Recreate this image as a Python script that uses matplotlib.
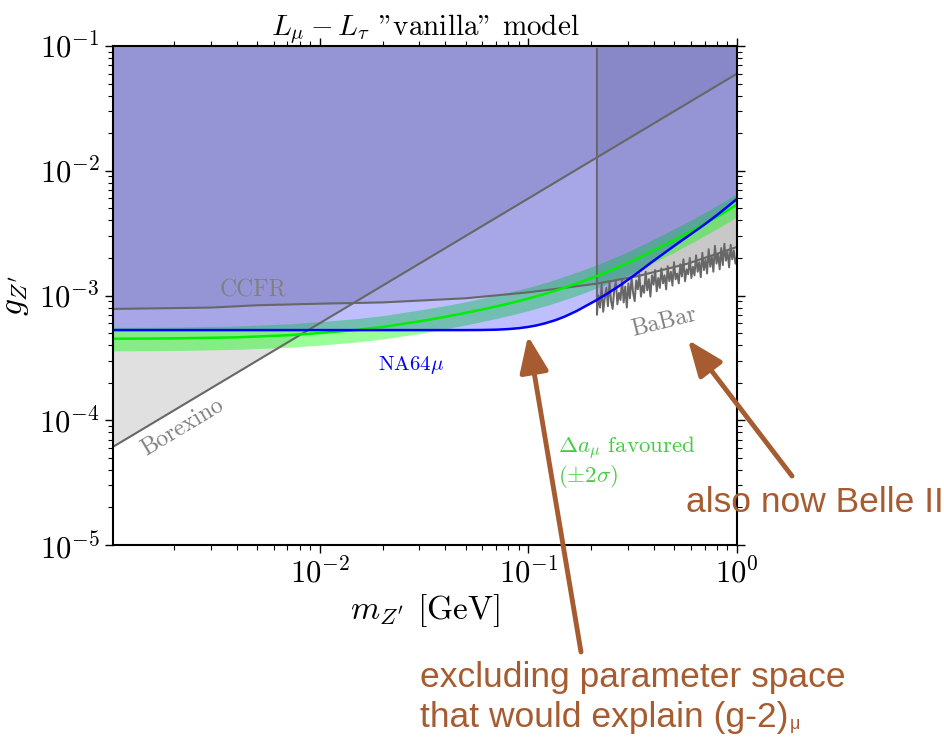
import numpy as np
import matplotlib
matplotlib.use("Agg")
import matplotlib.pyplot as plt
from matplotlib.patches import FancyArrowPatch

plt.rcParams["font.family"] = ["cmr10", "DejaVu Serif"]
plt.rcParams["mathtext.fontset"] = "cm"
plt.rcParams["axes.formatter.use_mathtext"] = True

# --- curves (m in GeV, g dimensionless) ---
borexino_m = [1.0e-3, 1.0]
borexino_g = [6.0e-5, 6.0e-2]

ccfr_m = [1e-3, 3e-3, 5e-3, 1e-2, 2e-2, 5e-2, 0.1, 0.141, 0.21, 0.335, 0.58, 1.0]
ccfr_g = [7.8e-4, 8.0e-4, 8.35e-4, 8.6e-4, 8.8e-4, 9.5e-4, 1.06e-3, 1.14e-3,
          1.24e-3, 1.43e-3, 1.8e-3, 2.45e-3]

babar_m = [0.2130, 0.2167, 0.2205, 0.2244, 0.2283, 0.2323, 0.2364, 0.2405, 0.2448, 0.2491,
           0.2534, 0.2579, 0.2624, 0.2670, 0.2717, 0.2764, 0.2813, 0.2862, 0.2912, 0.2963,
           0.3015, 0.3068, 0.3122, 0.3176, 0.3232, 0.3289, 0.3346, 0.3405, 0.3464, 0.3525,
           0.3587, 0.3650, 0.3714, 0.3779, 0.3845, 0.3912, 0.3981, 0.4051, 0.4122, 0.4194,
           0.4268, 0.4342, 0.4419, 0.4496, 0.4575, 0.4655, 0.4737, 0.4820, 0.4904, 0.4990,
           0.5078, 0.5167, 0.5257, 0.5349, 0.5443, 0.5538, 0.5635, 0.5734, 0.5835, 0.5937,
           0.6041, 0.6147, 0.6255, 0.6364, 0.6476, 0.6589, 0.6705, 0.6822, 0.6942, 0.7063,
           0.7187, 0.7313, 0.7441, 0.7572, 0.7704, 0.7839, 0.7977, 0.8117, 0.8259, 0.8404,
           0.8551, 0.8701, 0.8853, 0.9008, 0.9166, 0.9327, 0.9490, 0.9656, 0.9826, 1.0000]
babar_g = np.array([0.70, 1.00, 0.80, 1.22, 0.74, 0.95, 1.15, 0.82, 1.28, 0.90,
                    0.78, 1.10, 1.30, 0.85, 1.05, 0.92, 1.35, 0.88, 1.18, 0.80,
                    1.25, 0.95, 1.40, 1.05, 0.90, 1.32, 1.12, 1.48, 0.98, 1.20,
                    1.05, 1.55, 1.10, 1.35, 0.98, 1.45, 1.22, 1.60, 1.08, 1.38,
                    1.15, 1.65, 1.25, 1.45, 1.12, 1.72, 1.30, 1.55, 1.20, 1.85,
                    1.35, 1.50, 1.25, 1.78, 1.42, 1.95, 1.30, 1.62, 1.48, 2.00,
                    1.38, 1.70, 1.45, 2.10, 1.55, 1.85, 1.40, 2.20, 1.60, 1.95,
                    1.50, 2.35, 1.70, 2.05, 1.55, 2.50, 1.80, 2.15, 1.62, 2.40,
                    1.75, 2.60, 1.90, 2.25, 1.68, 2.55, 1.95, 2.30, 1.80, 2.05]) * 1e-3
babar_top = 0.095

na64_m = [1e-3, 1e-2, 0.03, 0.05, 0.06, 0.07, 0.08, 0.09, 0.1, 0.11, 0.12, 0.135,
          0.15, 0.17, 0.19, 0.21, 0.24, 0.28, 0.33, 0.39, 0.45, 0.52, 0.6, 0.7,
          0.8, 0.9, 1.0]
na64_g = [5.28e-4, 5.28e-4, 5.28e-4, 5.28e-4, 5.29e-4, 5.32e-4, 5.38e-4, 5.47e-4,
          5.6e-4, 5.77e-4, 5.98e-4, 6.35e-4, 6.8e-4, 7.5e-4, 8.3e-4, 9.1e-4,
          1.04e-3, 1.23e-3, 1.5e-3, 1.85e-3, 2.2e-3, 2.62e-3, 3.1e-3, 3.72e-3,
          4.4e-3, 5.15e-3, 5.95e-3]

amu_m = [1e-3, 2e-3, 4e-3, 7e-3, 1e-2, 1.5e-2, 2e-2, 3e-2, 4e-2, 5e-2, 6.5e-2,
         8e-2, 0.1, 0.125, 0.15, 0.18, 0.21, 0.25, 0.3, 0.35, 0.42, 0.5, 0.6, 0.7,
         0.8, 0.9, 1.0]
amu_c = [4.50e-4, 4.53e-4, 4.62e-4, 4.80e-4, 5.00e-4, 5.30e-4, 5.60e-4, 6.20e-4,
         6.75e-4, 7.25e-4, 7.95e-4, 8.60e-4, 9.45e-4, 1.05e-3, 1.16e-3, 1.29e-3,
         1.42e-3, 1.60e-3, 1.83e-3, 2.06e-3, 2.40e-3, 2.78e-3, 3.27e-3, 3.77e-3,
         4.27e-3, 4.80e-3, 5.35e-3]
amu_hi = [5.55e-4, 5.58e-4, 5.70e-4, 5.92e-4, 6.17e-4, 6.53e-4, 6.90e-4, 7.65e-4,
          8.30e-4, 8.90e-4, 9.80e-4, 1.06e-3, 1.16e-3, 1.29e-3, 1.43e-3, 1.59e-3,
          1.75e-3, 1.97e-3, 2.25e-3, 2.53e-3, 2.95e-3, 3.42e-3, 4.02e-3, 4.63e-3,
          5.25e-3, 5.90e-3, 6.58e-3]
amu_lo = [3.60e-4, 3.62e-4, 3.70e-4, 3.84e-4, 4.00e-4, 4.24e-4, 4.48e-4, 4.96e-4,
          5.40e-4, 5.80e-4, 6.36e-4, 6.88e-4, 7.56e-4, 8.40e-4, 9.28e-4, 1.03e-3,
          1.14e-3, 1.28e-3, 1.46e-3, 1.65e-3, 1.92e-3, 2.22e-3, 2.62e-3, 3.02e-3,
          3.42e-3, 3.84e-3, 4.28e-3]

xlim = (1.02e-3, 1.0)
ylim = (1e-5, 1e-1)

grey_line = "#676767"
grey_text = "#808080"
brown = "#A65C30"

fig = plt.figure(figsize=(9.44, 7.40), dpi=100)
ax = fig.add_axes([113 / 944, 1 - 545 / 740, 624 / 944, 499 / 740])
ax.set_xscale("log")
ax.set_yscale("log")

# excluded regions (grey), favoured band (green), NA64mu (blue) on top
ax.fill_between(borexino_m, borexino_g, ylim[1], color="gray", alpha=0.245, lw=0)
ax.fill_between(ccfr_m, ccfr_g, ylim[1], color="gray", alpha=0.245, lw=0)
ax.fill_between(babar_m, babar_g, ylim[1], color="gray", alpha=0.245, lw=0)
ax.fill_between(amu_m, amu_lo, amu_hi, color="#00ff00", alpha=0.4, lw=0)
ax.fill_between(na64_m, na64_g, ylim[1], color="blue", alpha=0.25, lw=0)

ax.plot(borexino_m, borexino_g, color=grey_line, lw=1.5)
ax.plot(ccfr_m, ccfr_g, color=grey_line, lw=1.5)
ax.plot(np.r_[babar_m[0], babar_m], np.r_[babar_top, babar_g], color=grey_line, lw=1.4)
ax.plot(amu_m, amu_c, color="#00ee00", lw=1.8)
ax.plot(na64_m, na64_g, color="blue", lw=1.8)

ax.text(4.8e-3, 1.1e-3, "CCFR", color=grey_text, fontsize=17, ha="center", va="center")
ax.text(2.2e-3, 8.8e-5, "Borexino", color=grey_text, fontsize=17, rotation=31,
        ha="center", va="center")
ax.text(0.0274, 2.77e-4, r"NA64$\mu$", color="blue", fontsize=15, ha="center", va="center")
ax.text(0.446, 6.1e-4, "BaBar", color=grey_text, fontsize=17, rotation=14,
        ha="center", va="center")
ax.text(0.139, 4.6e-5, "$\\Delta a_\\mu$ favoured\n$(\\pm 2\\sigma)$", color="#44cc44",
        fontsize=16.5, ha="left", va="center", linespacing=1.1)

ax.set_xlim(*xlim)
ax.set_ylim(*ylim)
ax.tick_params(which="both", direction="out", top=True, right=True, labelsize=22)
ax.tick_params(which="major", length=6, width=1)
ax.tick_params(which="minor", length=3.5, width=0.8)
for s in ax.spines.values():
    s.set_linewidth(1.5)

ax.set_xlabel(r"$m_{Z'}$ [GeV]", fontsize=24, labelpad=2)
ax.set_ylabel(r"$g_{Z'}$", fontsize=24, labelpad=6)
ax.set_title(r'$L_\mu - L_\tau$ "vanilla" model', fontsize=21, pad=6)

# slide annotations
arrow_kw = dict(arrowstyle="-|>,head_length=0.55,head_width=0.22", mutation_scale=40,
                lw=3.5, color=brown, shrinkA=0, shrinkB=0, transform=fig.transFigure)
fig.add_artist(FancyArrowPatch((581 / 944, 1 - 652 / 740), (528 / 944, 1 - 336 / 740), **arrow_kw))
fig.add_artist(FancyArrowPatch((792 / 944, 1 - 476 / 740), (688 / 944, 1 - 340 / 740), **arrow_kw))

sans = ["Liberation Sans", "DejaVu Sans"]
fig.text(686 / 944, 1 - 503 / 740, "also now Belle II", color=brown, fontsize=25.5,
         family=sans, ha="left", va="center")
fig.text(420 / 944, 1 - 677 / 740, "excluding parameter space", color=brown,
         fontsize=25.5, family=sans, ha="left", va="center")
t2 = fig.text(420 / 944, 1 - 718 / 740, "that would explain (g-2)", color=brown,
              fontsize=25.5, family=sans, ha="left", va="center")
fig.canvas.draw()
bb = t2.get_window_extent()
fig.text(bb.x1 / fig.bbox.width + 0.001, bb.y0 / fig.bbox.height + 0.002, "μ", color=brown,
         fontsize=13, family=sans, ha="left", va="bottom")

fig.savefig("out.png", dpi=100)
